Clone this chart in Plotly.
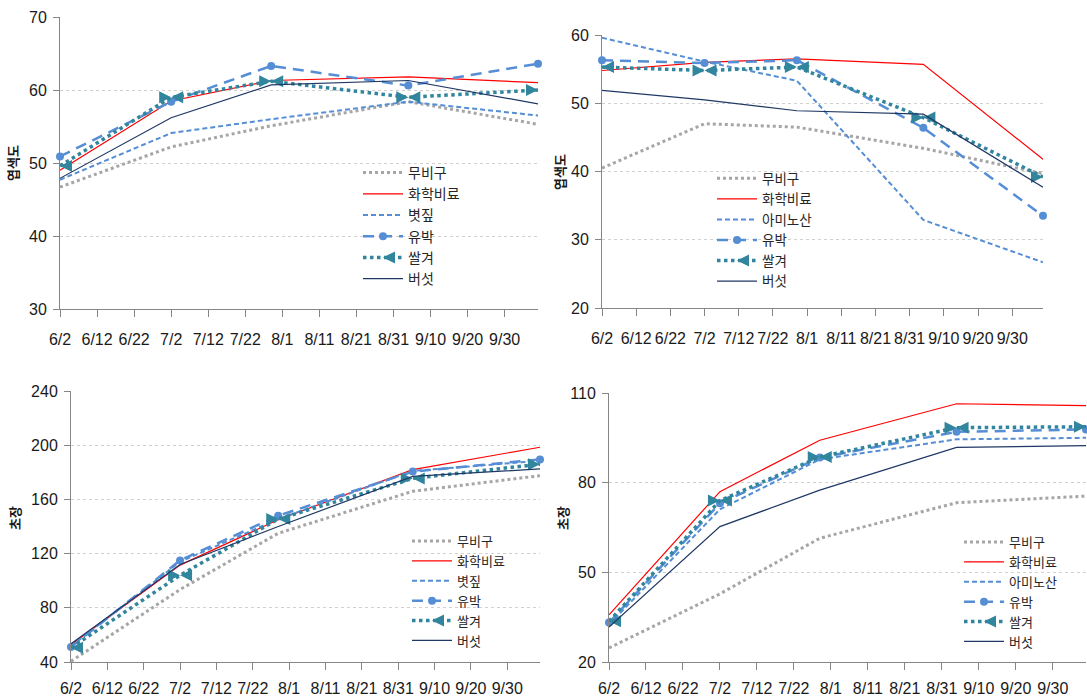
import plotly.graph_objects as go

W, H = 1087, 699

# ---------------- data ----------------
dates = ["2013-06-02", "2013-07-02", "2013-07-29", "2013-09-04", "2013-10-09"]

names_a = ["무비구", "화학비료", "볏짚", "유박", "쌀겨", "버섯"]
names_b = ["무비구", "화학비료", "아미노산", "유박", "쌀겨", "버섯"]

# top-left: 엽색도
tl_mubigu = [46.7, 52.2, 55.1, 58.4, 55.3]
tl_hwahak = [49.0, 58.5, 61.3, 61.8, 61.0]
tl_byeotjip = [47.7, 54.1, 56.0, 58.4, 56.5]
tl_yubak = [50.9, 58.4, 63.3, 60.6, 63.6]
tl_ssalgyeo = [49.6, 59.0, 61.2, 59.0, 60.0]
tl_beoseot = [47.9, 56.2, 60.7, 61.3, 58.1]

# top-right: 엽색도
tr_mubigu = [40.5, 47.0, 46.5, 43.4, 39.7]
tr_hwahak = [54.8, 56.0, 56.5, 55.7, 41.8]
tr_amino = [59.6, 56.1, 53.3, 32.9, 26.7]
tr_yubak = [56.3, 55.9, 56.3, 46.4, 33.5]
tr_ssalgyeo = [55.3, 54.8, 55.3, 47.9, 39.2]
tr_beoseot = [51.9, 50.5, 48.9, 48.4, 37.7]

# bottom-left: 초장
bl_mubigu = [40.5, 93.5, 135.0, 166.0, 177.5]
bl_hwahak = [52.8, 111.5, 145.0, 182.0, 198.5]
bl_byeotjip = [51.6, 114.0, 145.5, 181.0, 188.5]
bl_yubak = [51.0, 115.0, 148.0, 180.5, 189.5]
bl_ssalgyeo = [50.5, 104.0, 145.5, 175.5, 186.0]
bl_beoseot = [53.5, 112.0, 140.0, 177.0, 182.5]

# bottom-right: 초장
br_mubigu = [24.7, 42.8, 61.4, 73.3, 75.5]
br_hwahak = [35.8, 77.0, 94.2, 106.4, 105.8]
br_amino = [32.5, 71.1, 87.8, 94.5, 95.0]
br_yubak = [33.2, 73.1, 88.4, 97.0, 97.8]
br_ssalgyeo = [33.6, 74.0, 88.6, 98.4, 98.7]
br_beoseot = [31.7, 65.3, 77.5, 91.8, 92.4]

y_title_top = "엽색도"
y_title_bottom = "초장"

panels = [
    dict(names=names_a, series=[tl_mubigu, tl_hwahak, tl_byeotjip, tl_yubak, tl_ssalgyeo, tl_beoseot],
         yrange=[30, 70], dtick=10, px=(60, 538, 17, 309), legend=(358, 157, 14),
         title=y_title_top, tpos=(13, 163), xstand=9),
    dict(names=names_b, series=[tr_mubigu, tr_hwahak, tr_amino, tr_yubak, tr_ssalgyeo, tr_beoseot],
         yrange=[20, 60], dtick=10, px=(602, 1043, 35, 308), legend=(712, 163, 13.5),
         title=y_title_top, tpos=(559, 172), xstand=9),
    dict(names=names_a, series=[bl_mubigu, bl_hwahak, bl_byeotjip, bl_yubak, bl_ssalgyeo, bl_beoseot],
         yrange=[40, 240], dtick=40, px=(71, 540, 391, 662), legend=(407, 526, 13),
         title=y_title_bottom, tpos=(14, 518), xstand=5),
    dict(names=names_b, series=[br_mubigu, br_hwahak, br_amino, br_yubak, br_ssalgyeo, br_beoseot],
         yrange=[20, 110], dtick=30, px=(609, 1086, 393, 662), legend=(959, 527, 13),
         title=y_title_bottom, tpos=(562, 518), xstand=5),
]

BLUE = "#558ED5"
TEAL = "#31859C"
styles = [
    dict(line=dict(color="#A6A6A6", width=3, dash="3px,3px"), mode="lines"),
    dict(line=dict(color="#FF0000", width=1.2), mode="lines"),
    dict(line=dict(color=BLUE, width=2, dash="5px,3px"), mode="lines"),
    dict(line=dict(color=BLUE, width=2.5, dash="11px,7px"), mode="lines+markers",
         marker=dict(symbol="circle", size=8, color=BLUE)),
    dict(line=dict(color=TEAL, width=3.5, dash="3.5px,3.5px"), mode="lines+markers",
         marker=dict(symbol=["arrow-left", "arrow-right", "arrow-right", "arrow-right", "arrow-right"],
                     size=12, color=TEAL)),
    dict(line=dict(color="#1F3864", width=1.2), mode="lines"),
]

fig = go.Figure()
layout = dict(
    width=W, height=H, margin=dict(l=0, r=0, t=0, b=0, autoexpand=False),
    paper_bgcolor="white", plot_bgcolor="white", showlegend=True,
    annotations=[],
)

tickfont = dict(family="Liberation Sans, Arial, sans-serif", size=16, color="#1a1a1a")

for i, p in enumerate(panels):
    k = "" if i == 0 else str(i + 1)
    xa, ya = "x" + k, "y" + k
    lg = "legend" + k
    x0, x1, y0, y1 = p["px"]
    for j, (nm, ys) in enumerate(zip(p["names"], p["series"])):
        st = styles[j]
        kw = dict(x=dates, y=ys, name=nm, mode=st["mode"], line=st["line"],
                  xaxis=xa, yaxis=ya, legend=lg, cliponaxis=False, hoverinfo="skip")
        if "marker" in st:
            kw["marker"] = st["marker"]
        fig.add_trace(go.Scatter(**kw))
        if j == 4:
            # begin-arrows of the following segments at interior points
            fig.add_trace(go.Scatter(x=dates[1:-1], y=ys[1:-1], mode="markers",
                                     marker=dict(symbol="arrow-left", size=12, color=TEAL),
                                     xaxis=xa, yaxis=ya, showlegend=False, legend=lg,
                                     cliponaxis=False, hoverinfo="skip"))
    layout["xaxis" + k] = dict(
        domain=[x0 / W, x1 / W], anchor=ya, type="date", automargin=False,
        range=[dates[0], dates[-1]], tick0=dates[0], dtick=864000000,
        tickformat="%-m/%-d", ticks="outside", ticklen=7, tickcolor="#868686",
        showline=True, linecolor="#868686", linewidth=1, showgrid=False,
        tickfont=tickfont, ticklabelstandoff=p["xstand"], fixedrange=True,
    )
    layout["yaxis" + k] = dict(
        domain=[1 - y1 / H, 1 - y0 / H], anchor=xa, range=p["yrange"], dtick=p["dtick"],
        tick0=p["yrange"][0], automargin=False,
        ticks="outside", ticklen=6, tickcolor="#868686", showline=True,
        linecolor="#868686", linewidth=1, showgrid=True, gridcolor="#D0D0D0",
        griddash="dot", gridwidth=1, zeroline=False, tickfont=tickfont,
        ticklabelstandoff=3, fixedrange=True,
    )
    lx, ly, lfs = p["legend"]
    layout[lg] = dict(
        x=lx / W, y=1 - ly / H, xanchor="left", yanchor="top",
        bgcolor="rgba(0,0,0,0)", borderwidth=0, itemwidth=40,
        font=dict(family="Noto Sans CJK KR", size=lfs, color="#262626"),
        tracegroupgap=0,
    )
    tx, ty = p["tpos"]
    layout["annotations"].append(dict(
        text="<b>" + p["title"] + "</b>", x=tx / W, y=1 - ty / H, xref="paper", yref="paper",
        showarrow=False, textangle=-90, xanchor="center", yanchor="middle",
        font=dict(family="Noto Sans CJK KR", size=13, color="#1a1a1a"),
    ))

fig.update_layout(**layout)
fig.write_html("out.html", config={"displayModeBar": False},
               post_script="document.body.style.margin='0px';document.body.style.overflow='hidden';")
